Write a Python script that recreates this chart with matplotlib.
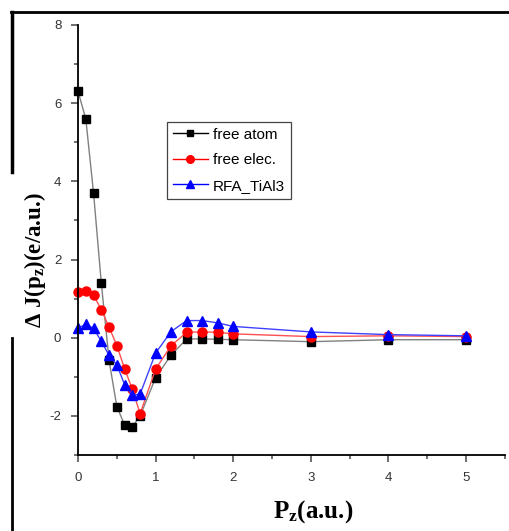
import matplotlib
matplotlib.use("Agg")
import matplotlib.pyplot as plt
from matplotlib.lines import Line2D

PZ = [0, 0.1, 0.2, 0.3, 0.4, 0.5, 0.6, 0.7, 0.8, 1.0, 1.2, 1.4, 1.6, 1.8, 2.0, 3.0, 4.0, 5.0]
FREE_ATOM = [6.3, 5.6, 3.7, 1.4, -0.58, -1.76, -2.23, -2.27, -2.0, -1.02, -0.44,
             -0.03, -0.03, -0.04, -0.05, -0.1, -0.05, -0.05]
FREE_ELEC = [1.16, 1.2, 1.09, 0.72, 0.27, -0.2, -0.79, -1.32, -1.94, -0.8, -0.2,
             0.14, 0.15, 0.14, 0.1, 0.03, 0.05, 0.03]
RFA_TIAL3 = [0.24, 0.35, 0.24, -0.09, -0.45, -0.69, -1.2, -1.47, -1.44, -0.39, 0.16,
             0.44, 0.44, 0.38, 0.29, 0.15, 0.08, 0.05]
LABELS = ['free atom', 'free elec.', 'RFA_TiAl3']

plt.rcParams['mathtext.fontset'] = 'custom'
plt.rcParams['mathtext.bf'] = 'Liberation Serif:bold'
plt.rcParams['mathtext.rm'] = 'Liberation Serif:bold'
plt.rcParams['mathtext.default'] = 'bf'
plt.rcParams['axes.unicode_minus'] = False

fig = plt.figure(figsize=(5.1, 5.31), dpi=100)
ax = fig.add_axes([0.153, 0.143, 0.837, 0.810])

ax.plot(PZ, FREE_ATOM, '-', color='#808080', lw=1.0, marker='s', ms=6,
        mfc='black', mec='black', clip_on=False)
ax.plot(PZ, FREE_ELEC, '-', color='#ff5050', lw=1.0, marker='o', ms=6.5,
        mfc='red', mec='red', clip_on=False)
ax.plot(PZ, RFA_TIAL3, '-', color='#4040ff', lw=1.0, marker='^', ms=7,
        mfc='blue', mec='blue', clip_on=False)

ax.set_xlim(0, 5.5)
ax.set_ylim(-3, 8)
ax.set_xticks([0, 1, 2, 3, 4, 5])
ax.set_xticks([0.5, 1.5, 2.5, 3.5, 4.5, 5.5], minor=True)
ax.set_yticks([-2, 0, 2, 4, 6, 8])
ax.set_yticks([-3, -1, 1, 3, 5, 7], minor=True)
for s in ['top', 'right']:
    ax.spines[s].set_visible(False)
for s in ['left', 'bottom']:
    ax.spines[s].set_linewidth(1.3)
ax.tick_params(which='major', length=5, width=1.2, color='#555555',
               labelsize=9.5, labelcolor='#333333', pad=7)
ax.tick_params(which='minor', length=3, width=1.2, color='#555555')
for lab in ax.get_xticklabels() + ax.get_yticklabels():
    lab.set_family('Liberation Sans')

fig.text(0.614, 0.036, 'P$_z$(a.u.)', ha='center', va='center', fontsize=18,
         family='Liberation Serif', weight='bold')
fig.text(0.068, 0.51, 'Δ J(p$_z$)(e/a.u.)', ha='center', va='center', fontsize=16.5,
         family='Liberation Serif', weight='bold', rotation=90)

handles = [
    Line2D([], [], color='black', lw=1, marker='s', ms=5, mfc='black', mec='black'),
    Line2D([], [], color='red', lw=1, marker='o', ms=5.5, mfc='red', mec='red'),
    Line2D([], [], color='blue', lw=1, marker='^', ms=6, mfc='blue', mec='blue'),
]
leg = ax.legend(handles, LABELS, loc='upper left', bbox_to_anchor=(0.208, 0.775),
                frameon=True, fancybox=False, edgecolor='#444444', framealpha=1,
                prop={'family': 'Liberation Sans', 'size': 11},
                handlelength=2.3, handletextpad=0.3, borderpad=0.4,
                labelspacing=0.75, borderaxespad=0)
leg.get_frame().set_linewidth(0.9)

# frame lines of the original picture
fig.add_artist(Line2D([11 / 510, 1], [1 - 12 / 531, 1 - 12 / 531], color='black', lw=2))
fig.add_artist(Line2D([12 / 510, 12 / 510], [1 - 12 / 531, 1 - 172 / 531], color='black', lw=2.5))
fig.add_artist(Line2D([12 / 510, 12 / 510], [1 - 338 / 531, 0], color='black', lw=2))

fig.savefig('out.png', dpi=100)
